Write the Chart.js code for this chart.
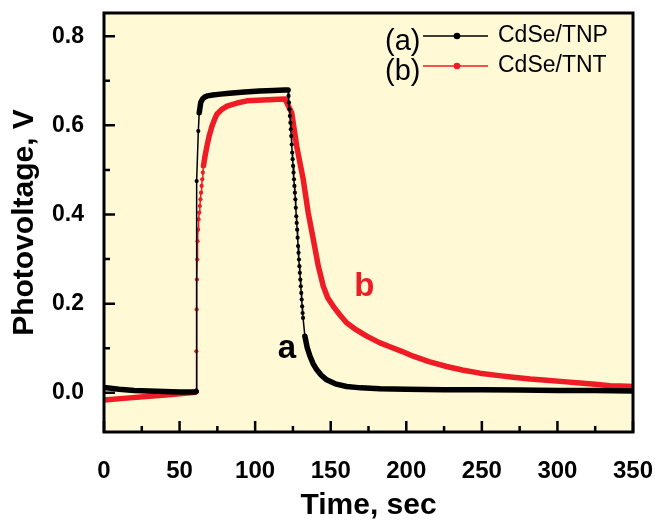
<!DOCTYPE html>
<html>
<head>
<meta charset="utf-8">
<script src="https://cdn.jsdelivr.net/npm/chart.js@4.4.1/dist/chart.umd.min.js"></script>
<style>
  html, body { margin: 0; padding: 0; background: #ffffff; }
</style>
</head>
<body>
<canvas id="pvChart" width="655" height="521"></canvas>
<script>
// Données : temps (s) et photovoltage (V)
const timeA = [0, 10, 20, 30, 40, 50, 60.5, 61.0, 61.3, 62.4, 63.0, 64.0, 65.2, 66.8, 68.5, 72, 77, 83, 93, 103, 112, 119.5, 121.8, 122.1,
  122.4, 122.7, 123.0, 123.3, 123.6, 123.9, 124.2, 124.5, 124.8, 125.1, 125.4, 125.7, 126.0, 126.3, 126.6, 126.9,
  127.2, 127.5, 127.8, 128.1, 128.4, 128.7, 129.0, 129.3, 129.6, 129.9, 130.2, 130.5, 130.8, 131.1, 131.4, 131.7,
  132.9, 134.4, 136.3, 138.4, 140.7, 143.6, 147.3, 153, 160.5, 170, 182.6, 200, 225, 250, 275, 300, 325, 350];
const voltA = [0.012, 0.008, 0.005, 0.004, 0.003, 0.002, 0.002, 0.003, 0.475, 0.587, 0.628, 0.651, 0.659, 0.664, 0.666, 0.668, 0.670, 0.672, 0.675, 0.677, 0.678, 0.679, 0.679, 0.666,
  0.651, 0.636, 0.621, 0.606, 0.591, 0.576, 0.557, 0.539, 0.524, 0.509, 0.494, 0.479, 0.464, 0.449, 0.434, 0.415,
  0.396, 0.381, 0.366, 0.348, 0.329, 0.314, 0.299, 0.284, 0.269, 0.254, 0.239, 0.224, 0.209, 0.194, 0.179, 0.168,
  0.127, 0.102, 0.082, 0.065, 0.052, 0.040, 0.029, 0.020, 0.014, 0.011, 0.009, 0.008, 0.007, 0.007, 0.006, 0.005, 0.005, 0.004];

const timeB = [0, 15, 30, 45, 60.5,
  60.9, 61.1, 61.3, 61.5, 61.7, 61.9, 62.2, 62.6, 63.0, 63.4, 63.8, 64.2, 64.6, 65.0, 65.4, 65.8,
  66.8, 68.1, 69.5, 71.4, 73.0, 74.7, 78, 81.4, 88, 94.6, 105, 112, 119.8,
  124.2, 127.5, 131.8, 135.1, 138.5, 141.8, 145.1, 148, 151.7, 156, 160.5, 167, 173.8, 182.6, 190, 197,
  204.6, 215, 226.7, 237, 248.7, 260, 270.8, 282, 292.8, 304, 314.9, 325, 334.7, 342, 350];
const voltB = [-0.016, -0.012, -0.008, -0.004, 0.001,
  0.003, 0.093, 0.187, 0.254, 0.299, 0.340, 0.366, 0.389, 0.404, 0.419, 0.434, 0.449, 0.464, 0.479, 0.494, 0.509,
  0.530, 0.553, 0.575, 0.598, 0.612, 0.625, 0.636, 0.643, 0.650, 0.655, 0.657, 0.658, 0.659,
  0.628, 0.553, 0.479, 0.404, 0.344, 0.284, 0.239, 0.213, 0.194, 0.175, 0.157, 0.141, 0.127, 0.112, 0.102, 0.093,
  0.082, 0.070, 0.059, 0.051, 0.044, 0.039, 0.035, 0.031, 0.028, 0.025, 0.022, 0.019, 0.016, 0.015, 0.014];

const seriesNames = ['CdSe/TNP', 'CdSe/TNT'];
const seriesTags = ['(a)', '(b)'];
const curveTags = ['a', 'b'];
const seriesColors = ['#000000', '#EE1C25'];

const xTicks = [0, 50, 100, 150, 200, 250, 300, 350];
const xMinor = [25, 75, 125, 175, 225, 275, 325];
const yTicks = [0.0, 0.2, 0.4, 0.6, 0.8];
const yMinor = [0.1, 0.3, 0.5, 0.7];
const xTitle = 'Time, sec';
const yTitle = 'Photovoltage, V';

const FONT = '"Liberation Sans", Arial, Helvetica, sans-serif';

// Segments raides : trait fin (points visibles), sinon trait épais
function steep(ctx) {
    const dx = Math.abs(ctx.p1.x - ctx.p0.x);
    const dy = Math.abs(ctx.p1.y - ctx.p0.y);
    return dy > 9 * dx;
}

function makeDataset(i, times, volts) {
    return {
        label: seriesNames[i],
        data: times.map((t, k) => ({ x: t, y: volts[k] })),
        showLine: true,
        borderColor: seriesColors[i],
        backgroundColor: seriesColors[i],
        borderWidth: 5.5,
        borderCapStyle: 'round',
        borderJoinStyle: 'round',
        pointRadius: 2.1,
        pointBorderWidth: 0,
        pointHoverRadius: 0,
        segment: {
            borderWidth: ctx => steep(ctx) ? 1.5 : 5.5
        }
    };
}

// Cadre, fond crème, graduations intérieures, légende et étiquettes a / b
const framePlugin = {
    id: 'framePlugin',
    beforeDraw(chart) {
        const { ctx, chartArea: a } = chart;
        ctx.save();
        ctx.fillStyle = '#ffffff';
        ctx.fillRect(0, 0, chart.width, chart.height);
        ctx.fillStyle = '#FFF9D6';
        ctx.fillRect(a.left, a.top, a.right - a.left, a.bottom - a.top);
        ctx.restore();
    },
    afterDraw(chart) {
        const { ctx, chartArea: a, scales } = chart;
        ctx.save();

        // graduations
        ctx.strokeStyle = '#000';
        ctx.lineWidth = 2.5;
        ctx.beginPath();
        xTicks.forEach(v => { const px = scales.x.getPixelForValue(v); ctx.moveTo(px, a.bottom); ctx.lineTo(px, a.bottom - 11); });
        xMinor.forEach(v => { const px = scales.x.getPixelForValue(v); ctx.moveTo(px, a.bottom); ctx.lineTo(px, a.bottom - 6); });
        yTicks.forEach(v => { const py = scales.y.getPixelForValue(v); ctx.moveTo(a.left, py); ctx.lineTo(a.left + 11, py); });
        yMinor.forEach(v => { const py = scales.y.getPixelForValue(v); ctx.moveTo(a.left, py); ctx.lineTo(a.left + 6, py); });
        ctx.stroke();

        // cadre
        ctx.lineWidth = 3;
        ctx.strokeRect(a.left, a.top, a.right - a.left, a.bottom - a.top);

        // légende
        chart.data.datasets.forEach((ds, i) => {
            const rowY = a.top + 23 + i * 30;
            ctx.fillStyle = '#000';
            ctx.font = '29px ' + FONT;
            ctx.textAlign = 'left';
            ctx.textBaseline = 'alphabetic';
            ctx.fillText(seriesTags[i], a.right - 248, rowY + 14);

            ctx.strokeStyle = ds.borderColor;
            ctx.lineWidth = 1.5;
            ctx.beginPath();
            ctx.moveTo(a.right - 210, rowY);
            ctx.lineTo(a.right - 145, rowY);
            ctx.stroke();
            ctx.fillStyle = ds.borderColor;
            ctx.beginPath();
            ctx.arc(a.right - 176, rowY, 3.3, 0, Math.PI * 2);
            ctx.fill();

            ctx.fillStyle = '#000';
            ctx.font = '23px ' + FONT;
            ctx.textBaseline = 'middle';
            ctx.fillText(ds.label, a.right - 135, rowY);
        });

        // étiquettes des courbes
        ctx.font = 'bold 33px ' + FONT;
        ctx.textAlign = 'center';
        ctx.textBaseline = 'alphabetic';
        ctx.fillStyle = seriesColors[0];
        ctx.fillText(curveTags[0], scales.x.getPixelForValue(121), scales.y.getPixelForValue(0.079));
        ctx.fillStyle = seriesColors[1];
        ctx.fillText(curveTags[1], scales.x.getPixelForValue(172.3), scales.y.getPixelForValue(0.2165));

        ctx.restore();
    }
};

new Chart(document.getElementById('pvChart'), {
    type: 'scatter',
    data: {
        datasets: [
            makeDataset(0, timeA, voltA),
            makeDataset(1, timeB, voltB)
        ]
    },
    options: {
        responsive: false,
        animation: false,
        events: [],
        layout: { padding: { top: 13, right: 22, left: 0, bottom: 0 } },
        plugins: {
            legend: { display: false },
            tooltip: { enabled: false }
        },
        scales: {
            x: {
                type: 'linear',
                min: 0,
                max: 350,
                afterBuildTicks: s => { s.ticks = xTicks.map(v => ({ value: v })); },
                afterFit: s => { s.height = 89; s.paddingLeft = 0; s.paddingRight = 0; },
                grid: { display: false },
                border: { display: false },
                ticks: {
                    color: '#000',
                    font: { family: FONT, size: 24, weight: 'bold' },
                    padding: 17,
                    maxRotation: 0,
                    autoSkip: false
                },
                title: {
                    display: true,
                    text: xTitle,
                    color: '#000',
                    font: { family: FONT, size: 30, weight: 'bold', lineHeight: 1 },
                    padding: 0
                }
            },
            y: {
                type: 'linear',
                min: -0.088,
                max: 0.852,
                afterBuildTicks: s => { s.ticks = yTicks.map(v => ({ value: v })); },
                afterFit: s => { s.width = 104; s.paddingTop = 0; s.paddingBottom = 0; },
                grid: { display: false },
                border: { display: false },
                ticks: {
                    color: '#000',
                    font: { family: FONT, size: 23, weight: 'bold' },
                    padding: 12,
                    callback: v => v.toFixed(1)
                },
                title: {
                    display: true,
                    text: yTitle,
                    color: '#000',
                    font: { family: FONT, size: 30, weight: 'bold', lineHeight: 1 },
                    padding: { top: 10, bottom: 0 }
                }
            }
        }
    },
    plugins: [framePlugin]
});
</script>
</body>
</html>
